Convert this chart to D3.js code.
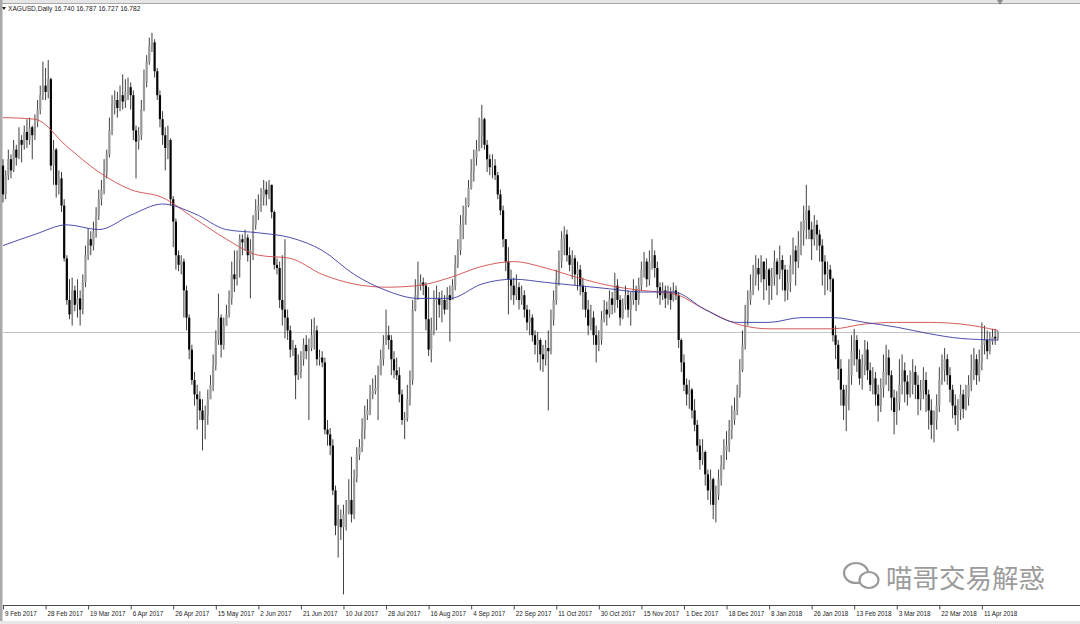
<!DOCTYPE html>
<html><head><meta charset="utf-8">
<script src="https://cdn.jsdelivr.net/npm/d3@7"></script>
<style>html,body{margin:0;padding:0;background:#fff;}svg{display:block;}</style>
</head><body>
<svg id="chart" width="1080" height="624"></svg>
<script>
// ---- data (XAGUSD daily) ----
const symbol = "XAGUSD,Daily";
const firstOpen = 17.82;
const closes = [
17.64,17.76,17.86,17.79,17.92,17.87,17.98,17.95,18.03,17.98,
18.06,18.01,18.09,18.17,18.26,18.32,18.28,18.36,17.82,17.92,
17.70,17.74,17.57,17.24,16.98,16.89,17.04,16.95,16.99,16.92,
17.09,17.26,17.36,17.32,17.41,17.51,17.61,17.67,17.78,17.89,
18.04,18.20,18.23,18.18,18.26,18.22,18.28,18.31,18.26,18.04,
17.97,18.01,18.17,18.34,18.47,18.57,18.59,18.41,18.26,18.11,
18.01,17.93,17.98,17.61,17.47,17.26,17.20,17.22,17.04,16.87,
16.67,16.48,16.39,16.36,16.29,16.23,16.26,16.36,16.45,16.57,
16.73,16.87,16.70,16.82,16.89,16.99,17.14,17.11,17.23,17.36,
17.34,17.37,17.26,17.29,17.45,17.54,17.57,17.62,17.67,17.64,
17.70,17.53,17.20,17.18,16.98,16.92,16.87,16.79,16.67,16.68,
16.51,16.53,16.61,16.70,16.66,16.68,16.76,16.79,16.61,16.62,
16.59,16.17,16.14,16.07,15.79,15.57,15.61,15.56,15.64,15.66,
15.73,15.64,15.87,16.01,16.06,16.17,16.26,16.29,16.39,16.41,
16.43,16.51,16.61,16.70,16.76,16.73,16.61,16.54,16.51,16.39,
16.23,16.24,16.36,16.48,16.92,17.01,17.07,17.09,17.07,16.86,
16.67,16.79,16.98,16.99,16.95,16.98,16.92,17.01,16.98,17.07,
17.20,17.29,17.45,17.51,17.57,17.68,17.78,17.87,17.92,18.01,
18.11,17.95,17.86,17.81,17.82,17.76,17.64,17.54,17.36,17.22,
17.11,17.07,17.01,17.06,16.98,17.01,16.92,16.84,16.87,16.76,
16.70,16.73,16.64,16.61,16.68,16.66,16.86,16.98,17.11,17.22,
17.36,17.39,17.26,17.20,17.24,17.14,17.17,17.07,17.03,16.92,
16.82,16.87,16.76,16.70,16.73,16.86,16.92,16.89,16.99,16.95,
17.07,16.98,16.87,16.95,17.01,16.92,16.98,17.04,16.98,17.07,
17.17,17.22,17.11,17.22,17.26,17.18,17.06,17.01,17.04,16.99,
17.03,16.98,17.04,17.01,16.73,16.59,16.45,16.39,16.42,16.29,
16.20,16.07,15.98,16.03,15.89,15.79,15.86,15.70,15.76,15.86,
15.95,16.04,16.07,16.17,16.23,16.29,16.39,16.54,16.70,16.86,
16.98,17.04,17.12,17.18,17.14,17.22,17.11,17.17,17.07,17.12,
17.22,17.14,17.23,17.17,17.04,17.09,17.20,17.29,17.22,17.32,
17.41,17.48,17.54,17.42,17.36,17.45,17.39,17.32,17.22,17.14,
17.17,17.11,16.76,16.70,16.55,16.42,16.32,16.39,16.51,16.66,
16.73,16.61,16.49,16.57,16.67,16.54,16.45,16.49,16.39,16.32,
16.43,16.53,16.62,16.51,16.37,16.28,16.34,16.45,16.54,16.47,
16.39,16.45,16.53,16.45,16.36,16.41,16.48,16.39,16.29,16.20,
16.23,16.32,16.48,16.54,16.61,16.51,16.42,16.32,16.26,16.29,
16.39,16.30,16.37,16.45,16.54,16.61,16.51,16.59,16.70,16.73,
16.66,16.72,16.75,16.740,16.782];
const highs = [
17.86,17.79,17.92,17.89,17.98,17.95,18.06,18.01,18.07,18.11,
18.12,18.07,18.14,18.23,18.32,18.47,18.43,18.48,18.37,17.98,
17.93,17.79,17.78,17.61,17.26,17.11,17.12,17.07,17.11,17.04,
17.14,17.32,17.43,17.41,17.47,17.56,17.67,17.73,17.86,17.92,
18.12,18.26,18.29,18.28,18.32,18.39,18.36,18.37,18.34,18.29,
18.07,18.06,18.23,18.42,18.51,18.62,18.65,18.61,18.43,18.29,
18.16,18.06,18.07,17.99,17.63,17.49,17.29,17.26,17.24,17.07,
16.89,16.70,16.53,16.45,16.41,16.36,16.32,16.42,16.51,16.64,
16.79,17.02,16.89,16.87,16.95,17.04,17.22,17.29,17.29,17.39,
17.39,17.42,17.39,17.36,17.51,17.61,17.64,17.68,17.73,17.72,
17.73,17.70,17.54,17.24,17.22,17.26,17.36,16.92,16.82,16.73,
16.70,16.64,16.66,16.74,16.76,16.74,16.86,16.87,16.82,16.67,
16.66,16.62,16.23,16.18,16.11,15.82,15.70,15.67,15.70,15.73,
15.86,16.00,15.92,16.06,16.11,16.24,16.32,16.36,16.45,16.49,
16.51,16.57,16.67,16.76,16.92,16.82,16.76,16.66,16.62,16.56,
16.42,16.28,16.45,16.54,16.98,17.11,17.22,17.14,17.12,17.09,
17.06,16.87,17.04,17.07,17.03,17.04,17.01,17.06,17.07,17.11,
17.26,17.36,17.51,17.57,17.62,17.73,17.86,17.92,17.98,18.12,
18.20,18.12,17.98,17.89,17.89,17.86,17.78,17.67,17.57,17.36,
17.31,17.17,17.12,17.14,17.09,17.07,17.04,16.95,16.92,16.89,
16.79,16.78,16.74,16.70,16.73,16.79,16.92,17.04,17.17,17.29,
17.41,17.44,17.42,17.31,17.29,17.26,17.22,17.20,17.12,17.06,
16.98,16.95,16.91,16.82,16.79,16.91,16.98,16.97,17.04,17.03,
17.15,17.11,17.01,16.99,17.07,17.04,17.03,17.11,17.07,17.12,
17.22,17.28,17.24,17.29,17.36,17.29,17.22,17.09,17.09,17.07,
17.07,17.06,17.09,17.07,17.03,16.74,16.64,16.49,16.48,16.43,
16.36,16.23,16.11,16.11,16.04,15.92,15.92,15.87,15.82,15.92,
16.01,16.11,16.16,16.23,16.32,16.37,16.45,16.61,16.79,16.95,
17.04,17.14,17.20,17.26,17.24,17.26,17.22,17.24,17.18,17.18,
17.29,17.24,17.32,17.26,17.20,17.17,17.26,17.37,17.32,17.41,
17.47,17.57,17.70,17.57,17.47,17.51,17.48,17.42,17.36,17.26,
17.22,17.20,17.12,16.82,16.73,16.61,16.45,16.45,16.61,16.76,
16.80,16.76,16.67,16.64,16.73,16.72,16.59,16.56,16.53,16.45,
16.49,16.64,16.70,16.67,16.54,16.42,16.41,16.61,16.64,16.59,
16.51,16.54,16.61,16.57,16.51,16.48,16.56,16.53,16.42,16.36,
16.29,16.39,16.56,16.64,16.68,16.64,16.56,16.45,16.39,16.36,
16.45,16.42,16.45,16.51,16.64,16.68,16.64,16.67,16.84,16.82,
16.79,16.78,16.80,16.80,16.787];
const lows = [
17.59,17.61,17.73,17.74,17.78,17.82,17.86,17.84,17.92,17.93,
17.95,17.86,17.98,18.06,18.14,18.23,18.23,18.24,17.79,17.70,
17.62,17.64,17.53,17.22,16.95,16.86,16.82,16.91,16.87,16.82,
16.89,17.06,17.23,17.26,17.29,17.37,17.48,17.57,17.64,17.74,
17.87,18.01,18.14,18.12,18.16,18.17,18.18,18.23,18.17,17.98,
17.74,17.92,17.98,18.16,18.31,18.45,18.53,18.37,18.23,18.06,
17.95,17.79,17.86,17.57,17.31,17.17,17.16,17.14,16.87,16.79,
16.61,16.45,16.32,16.17,16.23,16.04,16.11,16.20,16.36,16.41,
16.54,16.70,16.62,16.67,16.82,16.87,16.95,17.03,17.07,17.12,
17.26,17.29,17.22,16.99,17.23,17.42,17.48,17.53,17.57,17.57,
17.61,17.49,17.17,17.14,16.93,16.82,16.74,16.73,16.62,16.63,
16.36,16.48,16.49,16.57,16.61,16.23,16.66,16.67,16.57,16.57,
16.56,16.14,16.07,16.01,15.76,15.51,15.37,15.48,15.14,15.54,
15.64,15.59,15.61,15.84,15.98,16.03,16.11,16.23,16.26,16.36,
16.39,16.23,16.51,16.57,16.70,16.67,16.51,16.49,16.48,16.34,
16.20,16.11,16.22,16.32,16.45,16.91,16.98,17.04,17.01,16.79,
16.63,16.59,16.76,16.79,16.87,16.84,16.89,16.95,16.72,16.98,
17.04,17.18,17.26,17.36,17.45,17.56,17.67,17.72,17.82,17.91,
17.93,17.92,17.78,17.76,17.74,17.73,17.61,17.51,17.31,17.16,
16.89,16.98,16.95,16.98,16.92,16.95,16.87,16.79,16.76,16.72,
16.64,16.59,16.54,16.53,16.57,16.29,16.64,16.82,16.95,17.07,
17.18,17.26,17.22,17.16,17.11,17.07,17.04,17.01,16.92,16.87,
16.76,16.79,16.70,16.59,16.66,16.70,16.84,16.82,16.87,16.89,
16.90,16.93,16.82,16.86,16.92,16.87,16.82,16.95,16.91,16.95,
17.04,17.12,17.06,17.07,17.17,17.12,16.99,16.95,16.98,16.93,
16.95,16.92,16.97,16.98,16.68,16.53,16.41,16.32,16.30,16.24,
16.16,16.03,15.92,15.95,15.82,15.73,15.70,15.61,15.59,15.73,
15.82,15.92,15.98,16.03,16.11,16.20,16.26,16.37,16.53,16.67,
16.82,16.95,17.01,17.07,17.04,17.09,16.98,17.04,16.95,16.98,
17.07,17.01,17.11,17.04,16.97,16.98,17.03,17.14,17.07,17.18,
17.26,17.32,17.36,17.36,17.23,17.32,17.29,17.22,17.07,17.01,
17.04,17.03,16.72,16.61,16.48,16.32,16.23,16.16,16.29,16.45,
16.57,16.53,16.45,16.42,16.51,16.48,16.41,16.39,16.32,16.22,
16.28,16.37,16.45,16.41,16.29,16.14,16.20,16.29,16.39,16.34,
16.32,16.37,16.39,16.36,16.26,16.29,16.36,16.28,16.17,16.11,
16.09,16.17,16.28,16.45,16.47,16.45,16.34,16.24,16.20,16.16,
16.23,16.24,16.29,16.32,16.41,16.48,16.45,16.47,16.54,16.64,
16.61,16.64,16.70,16.70,16.727];

// moving averages, read at sample bars
const maBars = [0,12,24,36,48,60,72,84,96,108,120,132,144,156,168,180,192,204,216,228,240,252,264,276,288,300,312,324,336,348,360,374];
const redMA = [18.12,18.11,17.94,17.78,17.67,17.62,17.49,17.36,17.26,17.24,17.14,17.08,17.06,17.07,17.12,17.19,17.22,17.18,17.12,17.07,17.04,17.02,16.92,16.83,16.80,16.80,16.80,16.83,16.84,16.84,16.83,16.79];
const blueMA = [17.32,17.39,17.45,17.42,17.51,17.58,17.52,17.42,17.40,17.37,17.29,17.14,17.04,16.99,16.99,17.08,17.11,17.09,17.07,17.05,17.03,17.03,16.92,16.84,16.84,16.87,16.87,16.84,16.81,16.77,16.74,16.73];

// date labels every 16 bars
const tickLabels = ["9 Feb 2017","28 Feb 2017","19 Mar 2017","6 Apr 2017","26 Apr 2017","15 May 2017","2 Jun 2017","21 Jun 2017","10 Jul 2017","28 Jul 2017","16 Aug 2017","4 Sep 2017","22 Sep 2017","11 Oct 2017","30 Oct 2017","15 Nov 2017","1 Dec 2017","18 Dec 2017","8 Jan 2018","26 Jan 2018","13 Feb 2018","3 Mar 2018","22 Mar 2018","11 Apr 2018"];
const barsPerLabel = 16;
const watermark = "喵哥交易解惑";

// ---- build ----
const W = 1080, H = 624;
const svg = d3.select("#chart");
svg.append("rect").attr("width", W).attr("height", H).attr("fill", "#fff");

const candles = closes.map((c, i) => {
  const o = i === 0 ? firstOpen : closes[i - 1];
  return { i, o, c, h: Math.max(highs[i], o, c), l: Math.min(lows[i], o, c) };
});

const x = d3.scaleLinear().domain([0, 375]).range([3, 1000.5]);
const y = d3.scaleLinear().domain([15.105, 18.855]).range([600, 0]);

// frame
svg.append("rect").attr("x", 0).attr("y", 0).attr("width", W).attr("height", 3).attr("fill", "#e6e6e6");
svg.append("line").attr("x1", 0).attr("x2", W).attr("y1", 3.5).attr("y2", 3.5).attr("stroke", "#a8a8a8");
svg.append("rect").attr("x", 0).attr("y", 0).attr("width", 2.5).attr("height", H).attr("fill", "#a9a9a9");
svg.append("rect").attr("x", 0).attr("y", 621).attr("width", W).attr("height", 3).attr("fill", "#e8e8e8");

// bid line
const last = candles[candles.length - 1];
svg.append("line").attr("x1", 3).attr("x2", W).attr("y1", Math.round(y(last.c)) + 0.5).attr("y2", Math.round(y(last.c)) + 0.5)
  .attr("stroke", "#c4c4c4").attr("stroke-width", 1);

// candles
const g = svg.append("g");
g.selectAll("line.wick").data(candles).join("line").attr("class", "wick")
  .attr("x1", d => x(d.i)).attr("x2", d => x(d.i))
  .attr("y1", d => y(d.h)).attr("y2", d => y(d.l))
  .attr("stroke", "#2a2a2a").attr("stroke-width", 0.9);
g.selectAll("rect.body").data(candles).join("rect").attr("class", "body")
  .attr("x", d => x(d.i) - 1.1).attr("width", 2.2)
  .attr("y", d => y(Math.max(d.o, d.c)))
  .attr("height", d => Math.max(1, Math.abs(y(d.o) - y(d.c))))
  .attr("fill", d => d.c >= d.o ? "#9a9a9a" : "#050505");

// moving averages
const maLine = vals => d3.line().x((d, k) => x(maBars[k])).y(d => y(d)).curve(d3.curveMonotoneX)(vals);
svg.append("path").attr("d", maLine(redMA)).attr("fill", "none").attr("stroke", "#d24a4a").attr("stroke-width", 0.9);
svg.append("path").attr("d", maLine(blueMA)).attr("fill", "none").attr("stroke", "#3b3ba6").attr("stroke-width", 0.9);

// x axis
const tickBars = tickLabels.map((t, k) => k * barsPerLabel);
const axis = d3.axisBottom(x).tickValues(tickBars).tickFormat((d, k) => tickLabels[k]).tickSize(4).tickSizeOuter(0);
const ax = svg.append("g").attr("transform", "translate(0,605.5)").call(axis);
ax.select(".domain").attr("d", "M3,0H1080").attr("stroke", "#4a4a4a");
ax.selectAll(".tick line").attr("stroke", "#4a4a4a");
ax.selectAll(".tick text").attr("text-anchor", "start").attr("x", 1.5).attr("y", 6)
  .attr("font-family", "Liberation Sans, Arial, sans-serif").attr("font-size", 6.3).attr("fill", "#222");

// title
svg.append("path").attr("d", "M2,7 L6,7 L4,10 Z").attr("fill", "#222");
const fmt = d3.format(".3f");
svg.append("text").attr("x", 8).attr("y", 11)
  .attr("font-family", "Liberation Sans, Arial, sans-serif").attr("font-size", 6.6).attr("fill", "#222")
  .text(`${symbol}  ${fmt(last.o)} ${fmt(last.h)} ${fmt(last.l)} ${fmt(last.c)}`);

// chart shift marker
svg.append("path").attr("d", "M997,0 L1003,0 L1000,5 Z").attr("fill", "#8a8a8a");

// watermark
const wm = svg.append("g");
wm.append("ellipse").attr("cx", 856).attr("cy", 573).attr("rx", 12).attr("ry", 10).attr("fill", "#fff").attr("stroke", "#9a9a9a").attr("stroke-width", 2.2);
wm.append("ellipse").attr("cx", 869).attr("cy", 580).attr("rx", 9.5).attr("ry", 8).attr("fill", "#fff").attr("stroke", "#9a9a9a").attr("stroke-width", 2.2);
wm.append("text").attr("x", 886).attr("y", 588)
  .attr("font-family", "Noto Sans CJK SC, sans-serif").attr("font-size", 26.5).attr("fill", "#9c9c9c")
  .text(watermark);
</script>
</body></html>
